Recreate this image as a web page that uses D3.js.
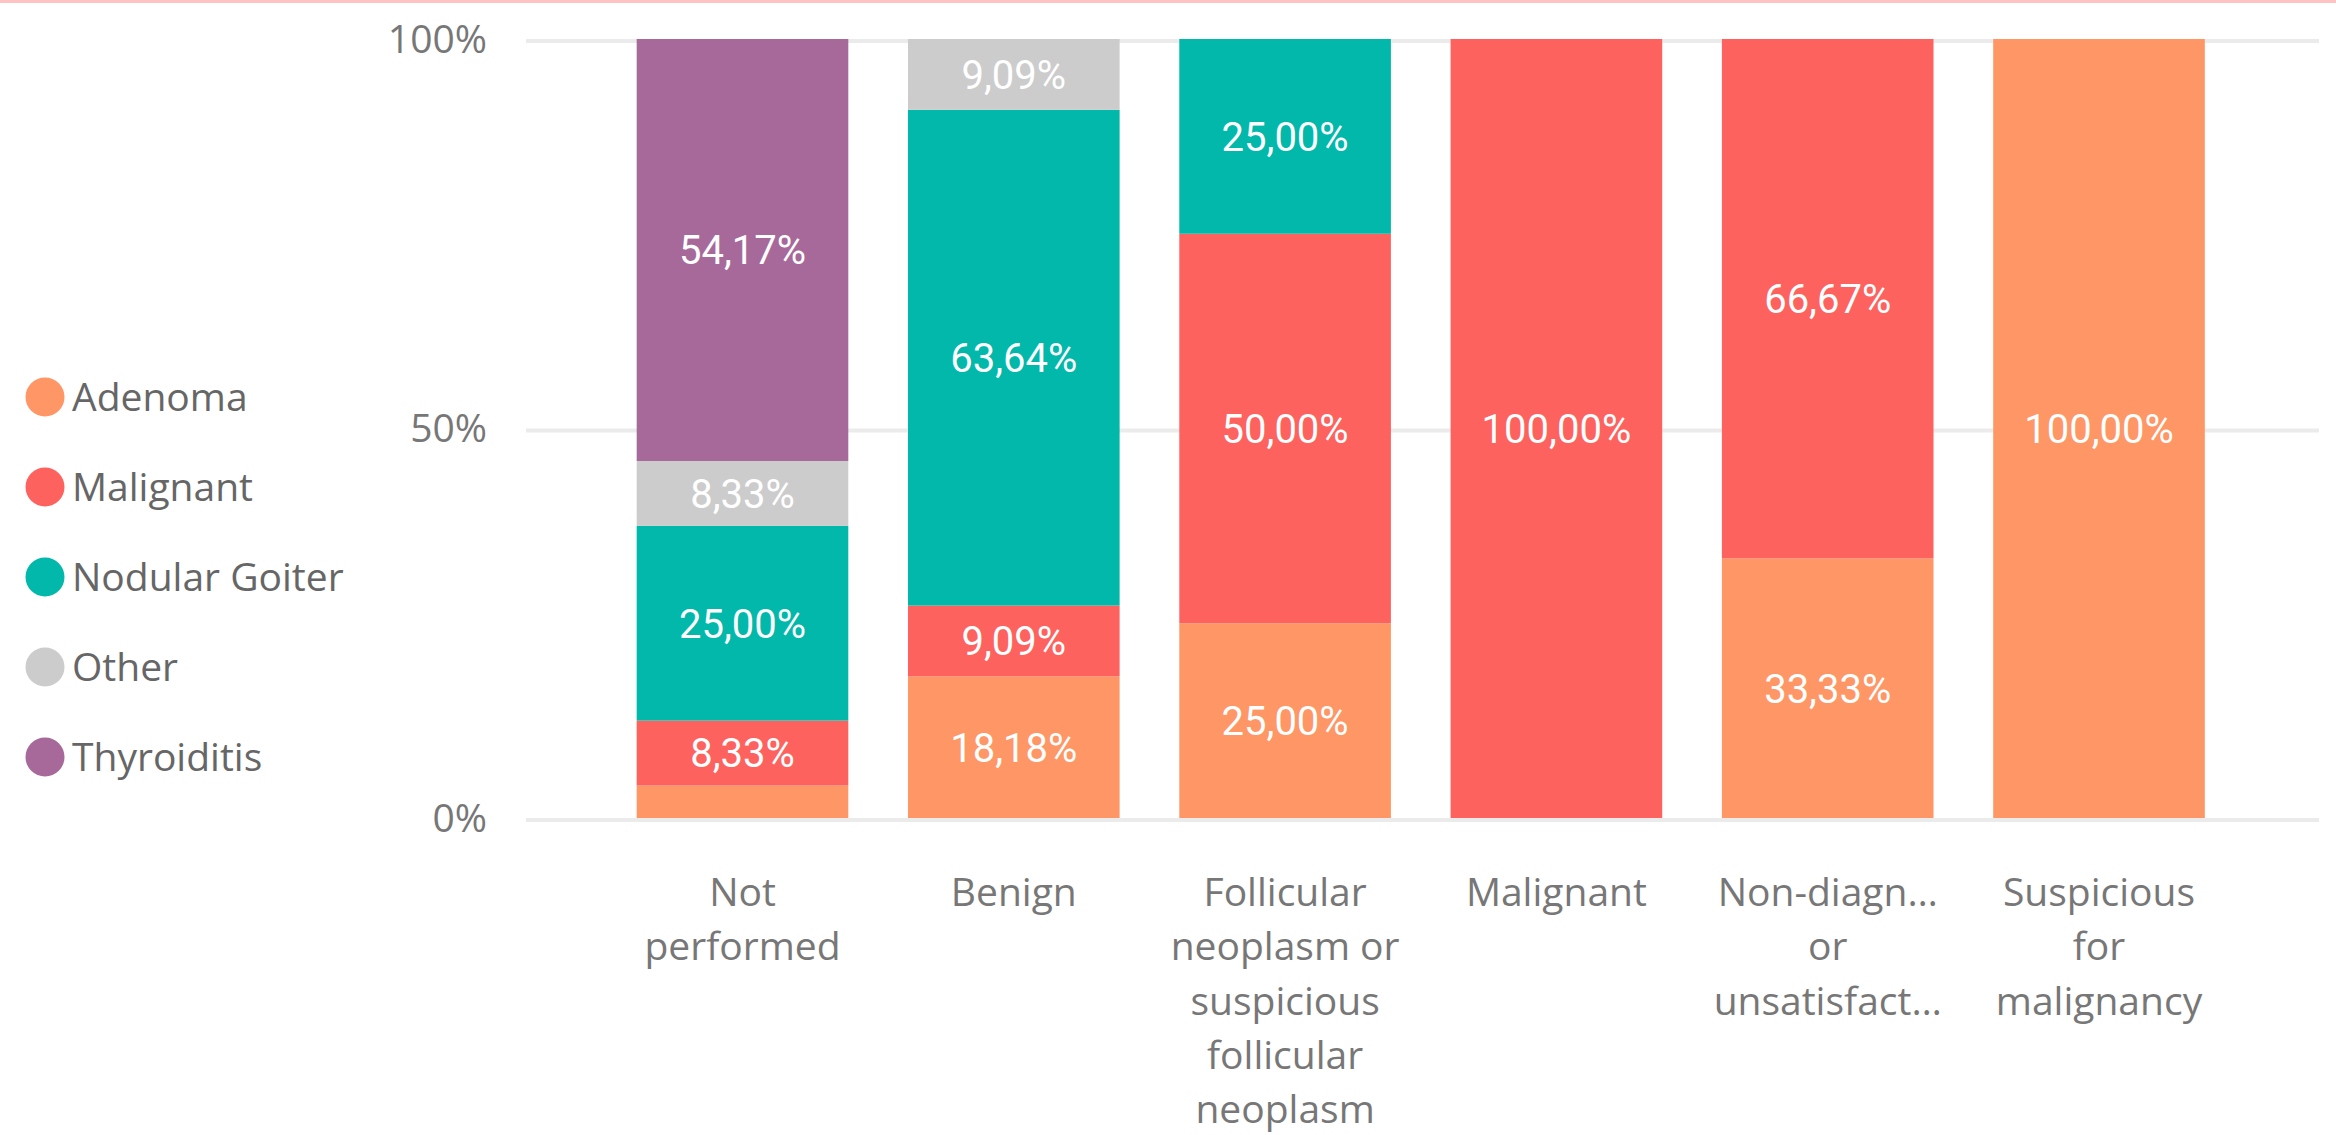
<!DOCTYPE html>
<html>
<head>
<meta charset="utf-8">
<script src="https://cdn.jsdelivr.net/npm/d3@7"></script>
<style>
  html, body { margin: 0; padding: 0; background: #fff; }
  svg { display: block; }
  .tick-label { font-family: "Segoe UI", "Open Sans", sans-serif; fill: #777; }
  .legend-label { font-family: "Segoe UI", "Open Sans", sans-serif; fill: #666; }
  .data-label { font-family: "DIN", Roboto, sans-serif; fill: #fff; }
</style>
</head>
<body>
<svg class="chart"></svg>
<script>
// categorias (eixo x) e as quebras de linha dos rótulos
const categories = ["Not performed", "Benign", "Follicular neoplasm or suspicious follicular neoplasm",
  "Malignant", "Non-diagnostic or unsatisfactory", "Suspicious for malignancy"];
const categoryLines = [
  ["Not", "performed"],
  ["Benign"],
  ["Follicular", "neoplasm or", "suspicious", "follicular", "neoplasm"],
  ["Malignant"],
  ["Non-diagn…", "or", "unsatisfact…"],
  ["Suspicious", "for", "malignancy"]
];

// séries (% em cada categoria)
const seriesNames = ["Adenoma", "Malignant", "Nodular Goiter", "Other", "Thyroiditis"];
const adenoma       = [4.17, 18.18, 25.00, 0, 33.33, 100.00];
const malignant     = [8.33, 9.09, 50.00, 100.00, 66.67, 0];
const nodularGoiter = [25.00, 63.64, 25.00, 0, 0, 0];
const other         = [8.33, 9.09, 0, 0, 0, 0];
const thyroiditis   = [54.17, 0, 0, 0, 0, 0];

const yTicks = [0, 50, 100];
const yTickLabels = ["0%", "50%", "100%"];

const colors = {
  "Adenoma": "#FE9666",
  "Malignant": "#FD625E",
  "Nodular Goiter": "#01B8AA",
  "Other": "#CCCCCC",
  "Thyroiditis": "#A66999"
};

const w = 2336, h = 1135;
const svg = d3.select('svg.chart').attr('width', w).attr('height', h);

// linha rosa no topo
svg.append('rect').attr('x', 0).attr('y', 0).attr('width', w).attr('height', 3).attr('fill', '#ffc2c2');

const rows = categories.map((c, i) => ({
  cat: c,
  "Adenoma": adenoma[i],
  "Malignant": malignant[i],
  "Nodular Goiter": nodularGoiter[i],
  "Other": other[i],
  "Thyroiditis": thyroiditis[i]
}));

const stacked = d3.stack().keys(seriesNames)(rows);

const x = d3.scaleBand().domain(categories).range([577, 2264.5]).padding(0.22);
const y = d3.scaleLinear().domain([0, 100]).range([818, 39]);

// grade
svg.append('g').selectAll('line').data(yTicks).join('line')
  .attr('x1', 526).attr('x2', 2319)
  .attr('y1', d => y(d) + 2).attr('y2', d => y(d) + 2)
  .attr('stroke', '#ebebeb').attr('stroke-width', 4);

// rótulos do eixo y
svg.append('g').selectAll('text').data(yTicks).join('text')
  .attr('class', 'tick-label')
  .attr('x', 487).attr('y', d => y(d))
  .attr('dy', '0.35em')
  .attr('text-anchor', 'end')
  .attr('font-size', 39)
  .text((d, i) => yTickLabels[i]);

// barras
const layers = svg.append('g').selectAll('g').data(stacked).join('g')
  .attr('fill', d => colors[d.key]);

layers.selectAll('rect').data(d => d).join('rect')
  .attr('x', d => x(d.data.cat))
  .attr('width', x.bandwidth())
  .attr('y', d => y(d[1]))
  .attr('height', d => y(d[0]) - y(d[1]));

// rótulos de dados (só nos segmentos grandes o bastante)
const fmt = v => v.toFixed(2).replace('.', ',') + '%';
const labels = [];
stacked.forEach(s => s.forEach(d => {
  const v = d.data[s.key];
  if (v >= 5) labels.push({ cat: d.data.cat, mid: (d[0] + d[1]) / 2, v: v });
}));

svg.append('g').selectAll('text').data(labels).join('text')
  .attr('class', 'data-label')
  .attr('x', d => x(d.cat) + x.bandwidth() / 2)
  .attr('y', d => y(d.mid))
  .attr('dy', '0.36em')
  .attr('text-anchor', 'middle')
  .attr('font-size', 40)
  .text(d => fmt(d.v));

// rótulos do eixo x
const xl = svg.append('g').selectAll('text').data(categories).join('text')
  .attr('class', 'tick-label')
  .attr('text-anchor', 'middle')
  .attr('font-size', 39)
  .attr('y', 906);

xl.selectAll('tspan').data((d, i) => categoryLines[i]).join('tspan')
  .attr('x', function() { return x(d3.select(this.parentNode).datum()) + x.bandwidth() / 2; })
  .attr('dy', (d, i) => i === 0 ? 0 : 54.3)
  .text(d => d);

// legenda
const leg = svg.append('g').selectAll('g').data(seriesNames).join('g')
  .attr('transform', (d, i) => `translate(0, ${397 + i * 90})`);

leg.append('circle').attr('cx', 45).attr('cy', 0).attr('r', 19.5).attr('fill', d => colors[d]);
leg.append('text')
  .attr('class', 'legend-label')
  .attr('x', 72).attr('y', 0).attr('dy', '0.35em')
  .attr('font-size', 39)
  .text(d => d);
</script>
</body>
</html>
